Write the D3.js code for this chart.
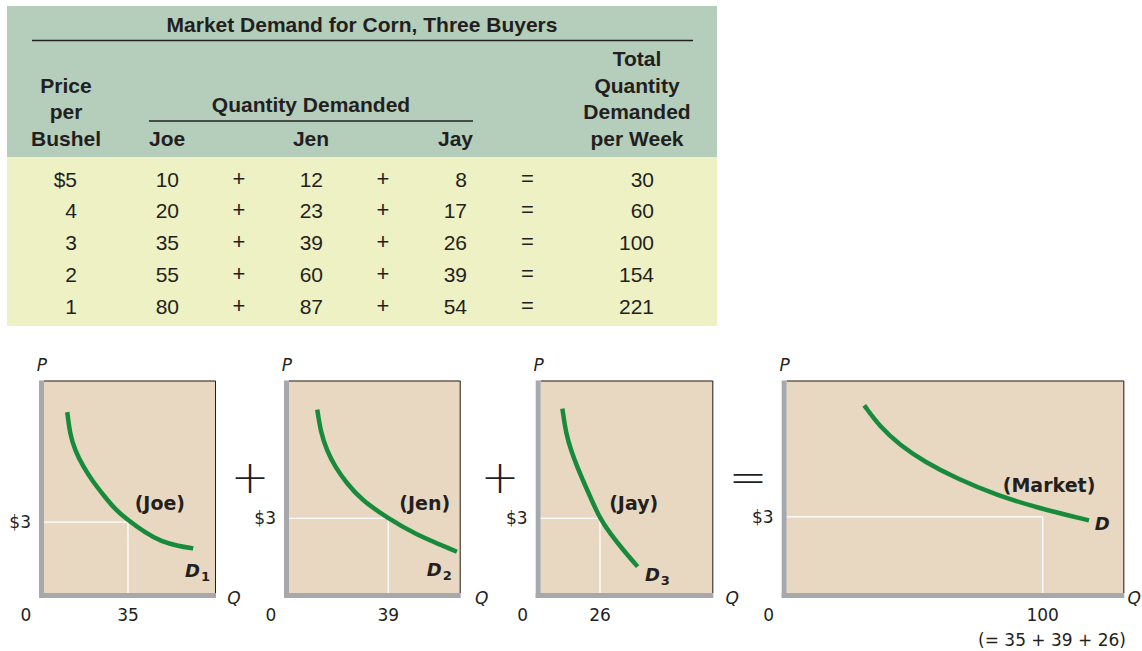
<!DOCTYPE html>
<html>
<head>
<meta charset="utf-8">
<title>Market demand for corn</title>
<script src="https://d3js.org/d3.v7.min.js"></script>
<style>
	body{margin:0;background:#fff;}
	svg{display:block;}
	.tbl text{font-family:'Liberation Sans',Arial,sans-serif;fill:#231f20;}
	.hd{font-weight:bold;font-size:21px;}
	.cell{font-size:21px;}
	.op{font-family:'DejaVu Sans',sans-serif;font-weight:200;}
	.pn text{font-family:'DejaVu Sans',sans-serif;fill:#231f20;}
	.num{font-size:17px;}
	.ax{font-size:17px;font-style:italic;}
	.who{font-size:19px;font-weight:bold;}
	.dl{font-size:18px;font-weight:bold;font-style:italic;}
</style>
</head>
<body>
<svg id="chart" width="1142" height="651"></svg>
<script>
	// table values
	const prices = [5, 4, 3, 2, 1];
	const joeQty = [10, 20, 35, 55, 80];
	const jenQty = [12, 23, 39, 60, 87];
	const jayQty = [8, 17, 26, 39, 54];
	const totalQty = [30, 60, 100, 154, 221];
	const buyers = ['Joe', 'Jen', 'Jay'];

	// demand curves as drawn in the small graphs, [Q, P]
	const joeCurve = [[9.7,7.66],[10.8,6.75],[12.9,6.04],[16.4,5.34],[20.5,4.70],[25.4,4.07],[29.6,3.55],[34.7,3.11],[42.1,2.56],[49.0,2.17],[56.0,1.99],[62.2,1.89]];
	const jenCurve = [[11.1,7.38],[12.4,6.5],[14.8,5.74],[18.1,5.07],[22.7,4.41],[28.6,3.73],[39,3.0],[48.8,2.40],[65.9,1.66]];
	const jayCurve = [[9.5,7.42],[11.1,6.41],[13.3,5.74],[16.0,5.07],[19.1,4.41],[22.4,3.73],[26,3.0],[30.4,2.40],[36.2,1.73],[42.5,1.06]];
	const marketCurve = [[30.3,7.39],[36.4,6.55],[44.3,5.82],[54.0,5.16],[66.4,4.51],[82.0,3.85],[98.9,3.33],[118.1,2.86]];

	const refPrice = 3;
	const ri = prices.indexOf(refPrice);

	const svg = d3.select('#chart');

	// ---------- table ----------
	const tbl = svg.append('g').attr('class','tbl');
	tbl.append('rect').attr('x',7).attr('y',6).attr('width',710).attr('height',152).attr('fill','#b4cebb');
	tbl.append('rect').attr('x',7).attr('y',157).attr('width',710).attr('height',169).attr('fill','#eef1c4');

	tbl.append('text').attr('class','hd').attr('x',362).attr('y',32).attr('text-anchor','middle')
		.text('Market Demand for Corn, Three Buyers');
	tbl.append('line').attr('x1',32).attr('x2',693).attr('y1',40.5).attr('y2',40.5).attr('stroke','#231f20').attr('stroke-width',1.3);

	const headY = d3.scalePoint().domain(d3.range(4)).range([66, 146]);
	['Price','per','Bushel'].forEach((t,i) => tbl.append('text').attr('class','hd').attr('x',66).attr('y',headY(i+1)).attr('text-anchor','middle').text(t));
	['Total','Quantity','Demanded','per Week'].forEach((t,i) => tbl.append('text').attr('class','hd').attr('x',637).attr('y',headY(i)).attr('text-anchor','middle').text(t));
	tbl.append('text').attr('class','hd').attr('x',311).attr('y',112).attr('text-anchor','middle').text('Quantity Demanded');
	tbl.append('line').attr('x1',149).attr('x2',473).attr('y1',121).attr('y2',121).attr('stroke','#231f20').attr('stroke-width',1.3);
	const buyerAnchor = ['start','middle','end'];
	const buyerX = [149, 311, 473];
	buyers.forEach((b,i) => tbl.append('text').attr('class','hd').attr('x',buyerX[i]).attr('y',146).attr('text-anchor',buyerAnchor[i]).text(b));

	const rowY = d3.scalePoint().domain(d3.range(prices.length)).range([186.5, 313.5]);
	const cols = [
		{vals: prices.map((p,i) => i === 0 ? '$' + p : p), x: 77},
		{vals: joeQty, x: 179},
		{vals: jenQty, x: 323},
		{vals: jayQty, x: 467},
		{vals: totalQty, x: 654}
	];
	cols.forEach(c => {
		tbl.selectAll(null).data(c.vals).join('text')
			.attr('class','cell').attr('x',c.x).attr('y',(d,i) => rowY(i)).attr('text-anchor','end').text(d => d);
	});
	[[239,'+'],[383,'+'],[527.5,'=']].forEach(([x,s]) => {
		tbl.selectAll(null).data(prices).join('text')
			.attr('class','op').attr('font-size',22).attr('x',x).attr('y',(d,i) => rowY(i) - 1).attr('text-anchor','middle').text(s);
	});

	// ---------- graphs ----------
	const plotTop = 380.5, plotBottom = 593;
	const panels = [
		{name:'Joe', curve: joeCurve, q: joeQty[ri], sub:'1', x0:44, x1:216, qMax:71.7, pMax:9.0, lab:[48.3,3.8], dl:[58.8,0.93], qx:18},
		{name:'Jen', curve: jenCurve, q: jenQty[ri], sub:'2', x0:289, x1:460.7, qMax:67.4, pMax:8.55, lab:[53.3,3.61], dl:[54.1,0.92], qx:21},
		{name:'Jay', curve: jayCurve, q: jayQty[ri], sub:'3', x0:540.7, x1:713.3, qMax:75.7, pMax:8.55, lab:[40.8,3.61], dl:[45.7,0.72], qx:19},
		{name:'Market', curve: marketCurve, q: totalQty[ri], sub:'', x0:786.7, x1:1124.3, qMax:131.9, pMax:8.37, lab:[102.5,4.25], dl:[120.4,2.71], qx:10}
	];

	panels.forEach(p => {
		const x = d3.scaleLinear().domain([0, p.qMax]).range([p.x0, p.x1]);
		const y = d3.scaleLinear().domain([0, p.pMax]).range([plotBottom, plotTop]);
		const g = svg.append('g').attr('class','pn');

		g.append('rect').attr('x',x(0)).attr('y',y(p.pMax)).attr('width',x(p.qMax)-x(0)).attr('height',y(0)-y(p.pMax)).attr('fill','#e8d8c1');
		g.append('path').attr('d',`M${x(0)},${y(p.pMax)+0.5}H${x(p.qMax)-0.5}V${y(0)}`).attr('fill','none').attr('stroke','#231f20').attr('stroke-width',1);
		// gray axes
		g.append('rect').attr('x',x(0)-5).attr('y',y(p.pMax)).attr('width',5).attr('height',y(0)-y(p.pMax)+5).attr('fill','#a6a8ab');
		g.append('rect').attr('x',x(0)-5).attr('y',y(0)).attr('width',x(p.qMax)-x(0)+5).attr('height',5).attr('fill','#a6a8ab');

		// reference lines at $3
		g.append('path').attr('d',`M${x(0)},${y(refPrice)}H${x(p.q)}V${y(0)}`).attr('fill','none').attr('stroke','#fff').attr('stroke-width',1.3);

		g.append('path').datum(p.curve)
			.attr('d', d3.line().x(d => x(d[0])).y(d => y(d[1])).curve(d3.curveBasis))
			.attr('fill','none').attr('stroke','#188a3c').attr('stroke-width',4.5);

		g.append('text').attr('class','who').attr('x',x(p.lab[0])).attr('y',y(p.lab[1])).attr('dy','0.35em').attr('text-anchor','middle').text(`(${p.name})`);
		const dt = g.append('text').attr('class','dl').attr('x',x(p.dl[0])).attr('y',y(p.dl[1])).attr('dy','0.35em');
		dt.append('tspan').text('D');
		if (p.sub) dt.append('tspan').attr('dy',4).attr('dx',1).attr('font-size',13).attr('font-style','normal').text(p.sub);

		g.append('text').attr('class','ax').attr('x',x(0)-2).attr('y',371).attr('text-anchor','middle').text('P');
		g.append('text').attr('class','ax').attr('x',x(p.qMax)+p.qx).attr('y',604).attr('text-anchor','middle').text('Q');
		g.append('text').attr('class','num').attr('x',x(0)-18).attr('y',621).attr('text-anchor','middle').text('0');
		g.append('text').attr('class','num').attr('x',x(0)-13).attr('y',y(refPrice)+6).attr('text-anchor','end').text('$' + refPrice);
		g.append('text').attr('class','num').attr('x',x(p.q)).attr('y',621).attr('text-anchor','middle').text(p.q);
	});

	// sum note under the market graph
	svg.append('text').attr('class','num').attr('font-family','DejaVu Sans').attr('fill','#231f20')
		.attr('x',1052).attr('y',646).attr('text-anchor','middle')
		.text(`(= ${[joeQty[ri], jenQty[ri], jayQty[ri]].join(' + ')})`);

	// + + = between graphs
	const ops = [[250,'+'],[500,'+'],[748,'=']];
	svg.selectAll('.bigop').data(ops).join('text').attr('class','bigop')
		.attr('x',d => d[0]).attr('y',493).attr('text-anchor','middle')
		.attr('font-family','DejaVu Sans').attr('font-weight',200).attr('font-size',46).attr('fill','#231f20')
		.text(d => d[1]);
</script>
</body>
</html>
